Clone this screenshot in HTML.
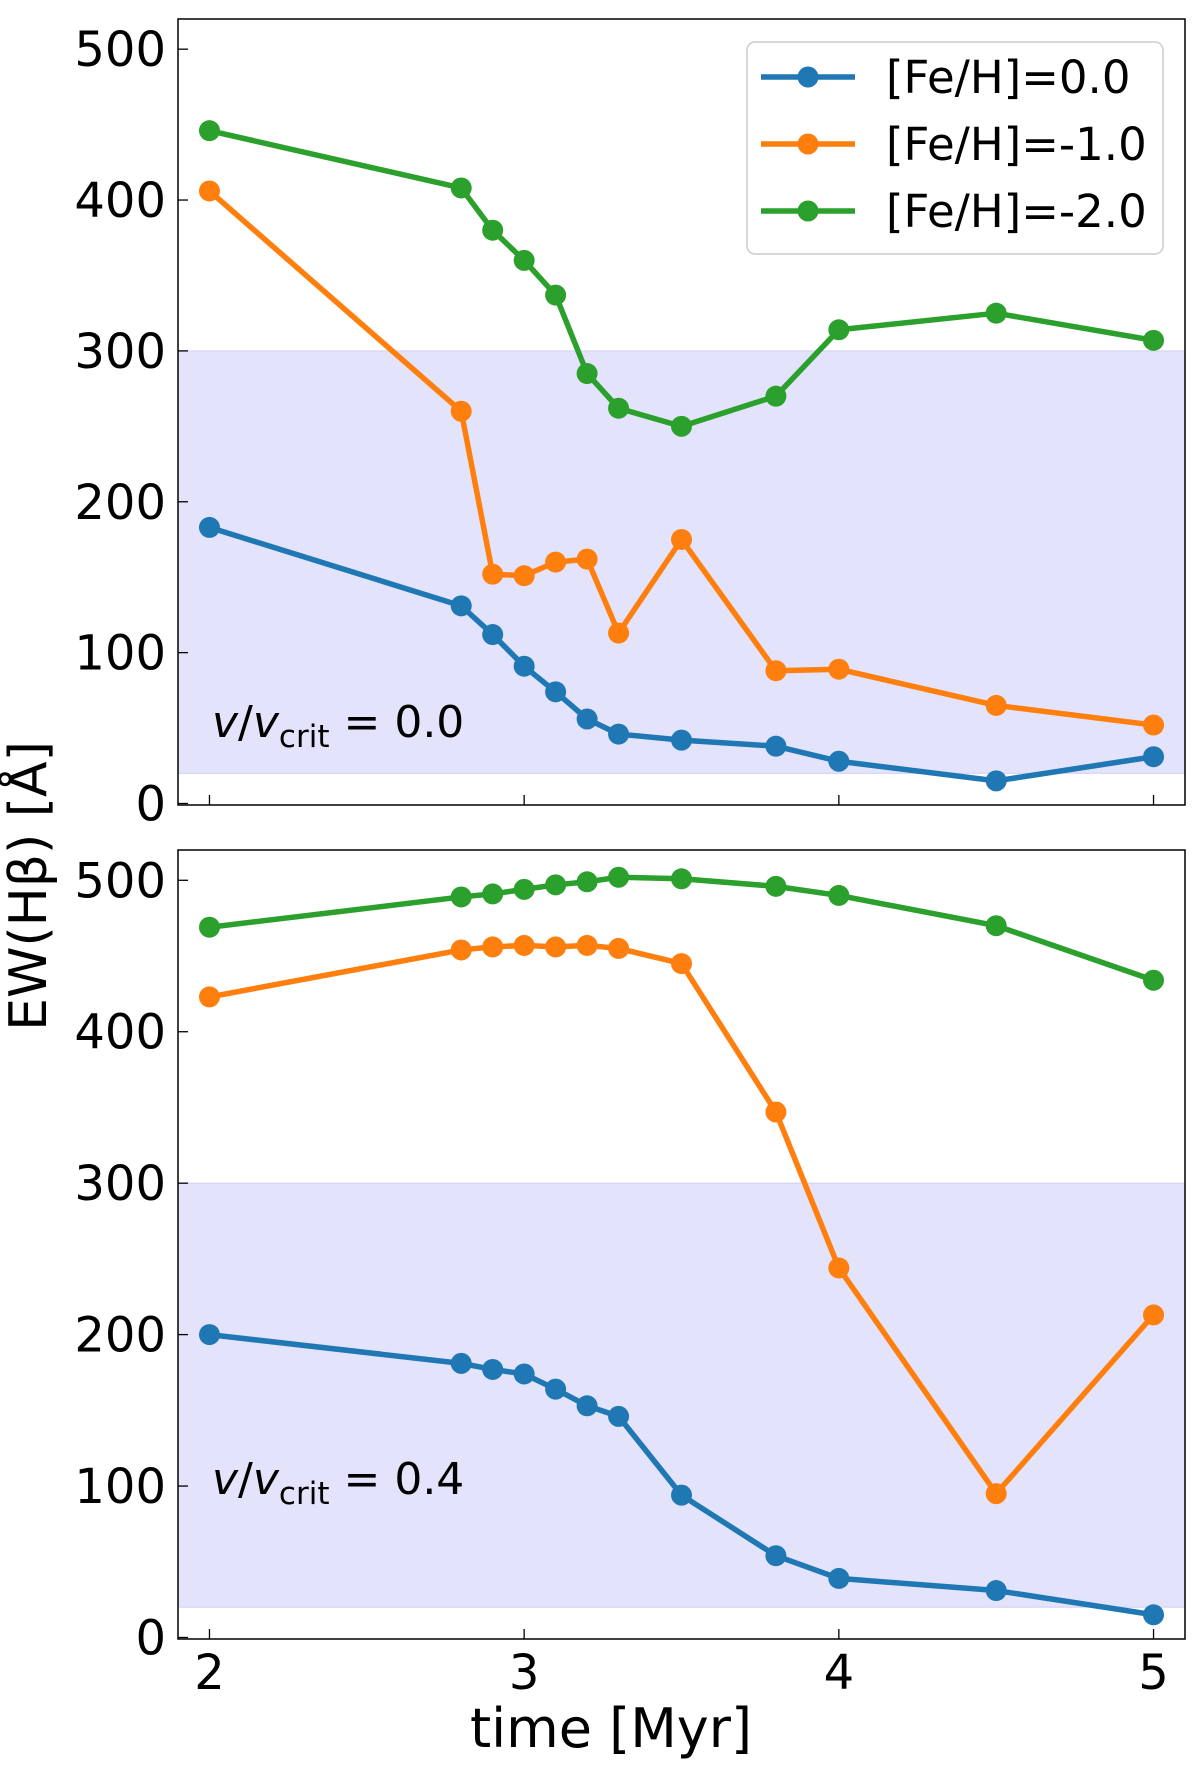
<!DOCTYPE html>
<html><head><meta charset="utf-8"><style>
body{margin:0;background:#fff}
svg text{font-family:"DejaVu Sans","Liberation Sans",sans-serif;fill:#000}
</style></head><body>
<svg id="chart" width="1200" height="1771" xmlns="http://www.w3.org/2000/svg"></svg>
<script>
const times=[2,2.8,2.9,3.0,3.1,3.2,3.3,3.5,3.8,4.0,4.5,5.0];
const topBlue=[183,131,112,91,74,56,46,42,38,28,15,31];
const topOrange=[406,260,152,151,160,162,113,175,88,89,65,52];
const topGreen=[446,408,380,360,337,285,262,250,270,314,325,307];
const botBlue=[200,181,177,174,164,153,146,94,54,39,31,15];
const botOrange=[423,454,456,457,456,457,455,445,347,244,95,213];
const botGreen=[469,489,491,494,497,499,502,501,496,490,470,434];
const yTicks=[0,100,200,300,400,500];
const xTicks=[2,3,4,5];
const seriesNames=["[Fe/H]=0.0","[Fe/H]=-1.0","[Fe/H]=-2.0"];
const colors=["#1f77b4","#ff7f0e","#2ca02c"];
const band=[20,300];
const panelLabels=["0.0","0.4"];

const NS="http://www.w3.org/2000/svg";
const svg=document.getElementById('chart');
function mk(tag,attrs,parent){const e=document.createElementNS(NS,tag);for(const k in attrs)e.setAttribute(k,attrs[k]);(parent||svg).appendChild(e);return e;}
const L=178,R=1185;
const xmin=1.9,xmax=5.1,ymin=-1,ymax=520;
function xs(v){return L+(v-xmin)/(xmax-xmin)*(R-L);}
const panels=[{top:19,bot:805,data:[topBlue,topOrange,topGreen]},{top:850,bot:1639,data:[botBlue,botOrange,botGreen]}];
panels.forEach((p,pi)=>{
  const ys=v=>p.bot-(v-ymin)/(ymax-ymin)*(p.bot-p.top);
  const g=mk('g',{});
  
  
  const b=mk('rect',{x:L,y:ys(band[1]),width:R-L,height:ys(band[0])-ys(band[1]),fill:'#e3e3fb',stroke:'#d0d0f5','stroke-width':1},g);
  
  
  yTicks.forEach(t=>{
    mk('line',{x1:L,x2:L+10,y1:ys(t),y2:ys(t),stroke:'#000','stroke-width':1.3},g);
    const tx=mk('text',{x:L-12,y:ys(t)+17,'text-anchor':'end','font-size':48},g);tx.textContent=t;
    
    
  });
  xTicks.forEach(t=>{
    mk('line',{x1:xs(t),x2:xs(t),y1:p.bot,y2:p.bot-10,stroke:'#000','stroke-width':1.3},g);
    if(pi==1){const tx=mk('text',{x:xs(t),y:p.bot+50,'text-anchor':'middle','font-size':48},g);tx.textContent=t;
      
      }
  });
  p.data.forEach((arr,si)=>{
    const pts=arr.map((v,i)=>xs(times[i])+','+ys(v)).join(' ');
    const pl=mk('polyline',{points:pts,fill:'none',stroke:colors[si],'stroke-width':5.5,'stroke-linejoin':'round'},g);
    
    
    arr.forEach((v,i)=>{const c=mk('circle',{cx:xs(times[i]),cy:ys(v),r:10.5,fill:colors[si]},g);
      
      });
  });
  const fr=mk('rect',{x:L,y:p.top,width:R-L,height:p.bot-p.top,fill:'none',stroke:'#000','stroke-width':1.5},g);
  
  
  const an=mk('text',{x:212,y:pi?1494:737,'font-size':44},g);
  an.innerHTML='<tspan font-style="italic">v</tspan>/<tspan font-style="italic">v</tspan><tspan font-size="31" dy="10">crit</tspan><tspan dy="-10"> = '+panelLabels[pi]+'</tspan>';
  
  
});
// legend
const lg=mk('g',{});


mk('rect',{x:747,y:42,width:416,height:212,rx:8,fill:'#fff',stroke:'#ccc','stroke-width':1.5},lg);
seriesNames.forEach((n,i)=>{
  const y=77+i*67;
  const e=mk('g',{},lg);
  
  
  mk('line',{x1:761,x2:855,y1:y,y2:y,stroke:colors[i],'stroke-width':5.5},e);
  mk('circle',{cx:808,cy:y,r:10.5,fill:colors[i]},e);
  const t=mk('text',{x:886,y:y+16,'font-size':45},e);t.textContent=n;
});
const yl=mk('text',{x:0,y:0,'font-size':52,'text-anchor':'middle',transform:'translate(46,886) rotate(-90)'});
yl.textContent='EW(Hβ) [Å]';


const xl=mk('text',{x:611,y:1747,'font-size':54,'text-anchor':'middle'});
xl.textContent='time [Myr]';


</script>
</body></html>
